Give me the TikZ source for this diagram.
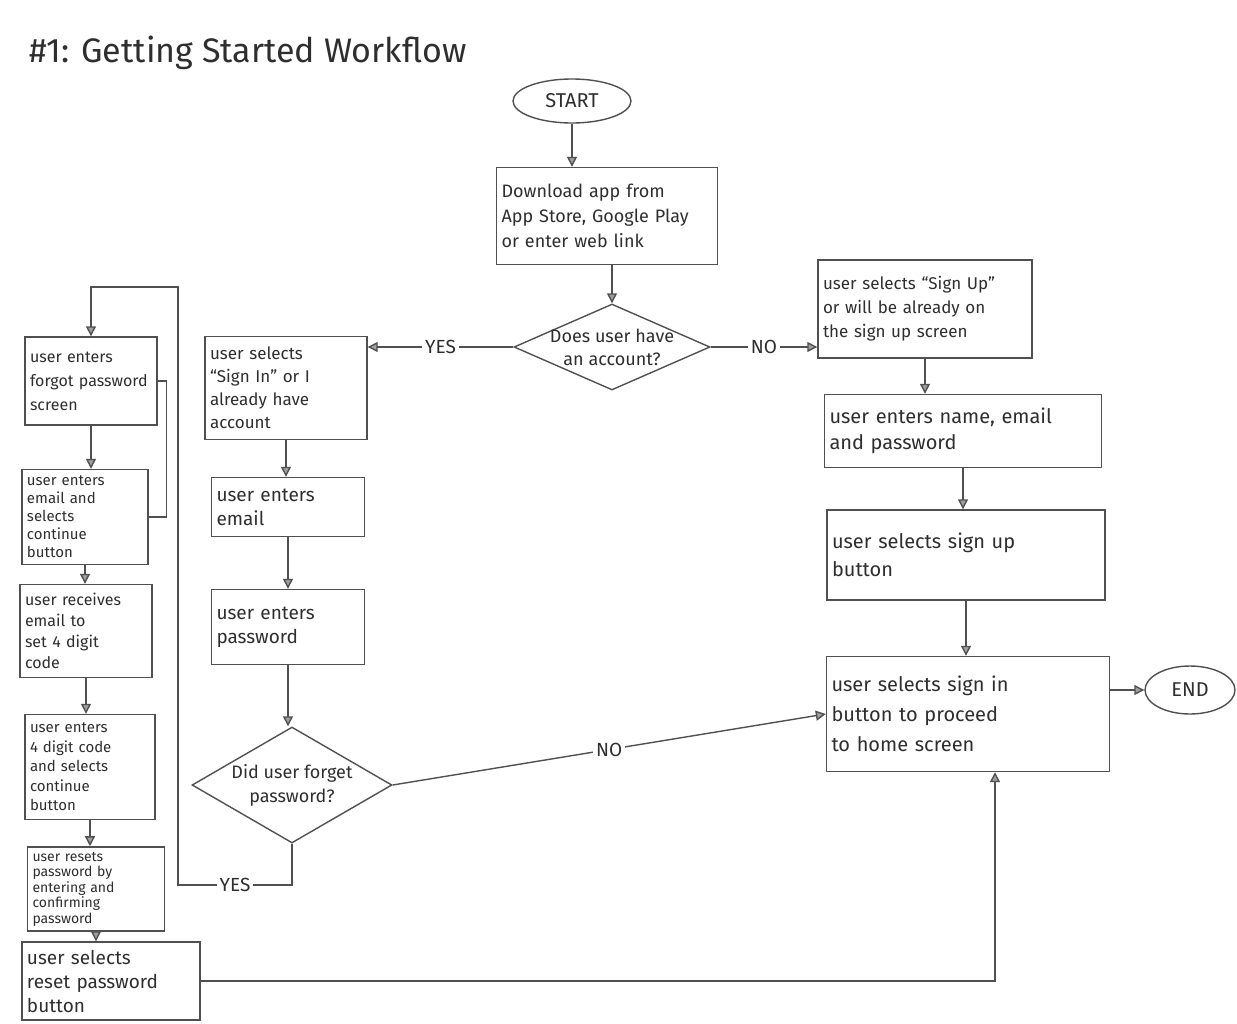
\documentclass[tikz,border=0pt]{standalone}
\usepackage{fontspec}
\setmainfont{Fira Sans}
\usetikzlibrary{arrows.meta,shapes.geometric}
\newcommand{\hand}[2]{\fontsize{#1}{#2}\selectfont}
\definecolor{pencil}{HTML}{2E2E2E}
\definecolor{lead}{HTML}{505050}

\begin{document}
\begin{tikzpicture}[x=1pt,y=-1pt,line width=1.4pt,color=lead,text=pencil,
	box/.style={draw,rectangle,inner sep=5pt,align=left},
	decision/.style={draw,diamond,inner sep=0pt},
	term/.style={draw,ellipse,inner sep=0pt,font=\hand{20}{24}},
	flow/.style={-{Triangle[length=10pt,width=10pt,fill=lead!55]}},
	tag/.style={fill=white,inner sep=3pt,font=\hand{19}{22}}]
	\useasboundingbox (0,0) rectangle (1237,1023);
	\node[anchor=base west,font=\hand{34}{40}] (title) at (25,62) {\#1: Getting Started Workflow};
	% main column
	\node[term,minimum width=118pt,minimum height=44pt] (start) at (572,101) {START};
	\node[box,text width=211pt,minimum height=97pt,font=\hand{18}{25}] (dl) at (607,216)
		{Download app from\\App Store, Google Play\\or enter web link};
	\node[decision,minimum width=196pt,minimum height=86pt,
		label={[font=\hand{18}{23},align=center]center:Does user have\\an account?}] (acct) at (612,347) {};
	% sign in column
	\node[box,text width=152pt,minimum height=103pt,font=\hand{17}{23}] (signin) at (286,388)
		{user selects\\“Sign In” or I\\already have\\account};
	\node[box,text width=143pt,minimum height=59pt,font=\hand{19}{24}] (email) at (288,507) {user enters\\email};
	\node[box,text width=143pt,minimum height=75pt,font=\hand{19}{24}] (pwd) at (288,627) {user enters\\password};
	\node[decision,minimum width=200pt,minimum height=116pt,
		label={[font=\hand{18}{24},align=center]center:Did user forget\\password?}] (fgt) at (292,785) {};
	% forgot password column
	\node[box,text width=122pt,minimum height=88pt,font=\hand{16}{24}] (fpw) at (91,381)
		{user enters\\forgot password\\screen};
	\node[box,text width=116pt,minimum height=95pt,font=\hand{15}{18}] (ecnt) at (85,517)
		{user enters\\email and\\selects\\continue\\button};
	\node[box,text width=122pt,minimum height=93pt,font=\hand{16}{21}] (rcv) at (86,631)
		{user receives\\email to\\set 4 digit\\code};
	\node[box,text width=120pt,minimum height=105pt,font=\hand{15}{19.5}] (code) at (90,767)
		{user enters\\4 digit code\\and selects\\continue\\button};
	\node[box,text width=127pt,minimum height=82pt,font=\hand{14}{15.5}] (rst) at (96,889)
		{user resets\\password by\\entering and\\confirming\\password};
	\node[box,text width=168pt,minimum height=78pt,font=\hand{19}{24}] (rbtn) at (111,981)
		{user selects\\reset password\\button};
	% sign up column
	\node[box,text width=204pt,minimum height=98pt,font=\hand{17}{24}] (signup) at (925,309)
		{user selects “Sign Up”\\or will be already on\\the sign up screen};
	\node[box,text width=267pt,minimum height=73pt,font=\hand{20}{26}] (name) at (963,431)
		{user enters name, email\\and password};
	\node[box,text width=268pt,minimum height=90pt,font=\hand{20}{28}] (subtn) at (966,555)
		{user selects sign up\\button};
	\node[box,text width=273pt,minimum height=115pt,font=\hand{20}{30}] (home) at (968,714)
		{user selects sign in\\button to proceed\\to home screen};
	\node[term,minimum width=90pt,minimum height=48pt] (end) at (1190,690) {END};
	\coordinate (loopR) at (178,885);
	\coordinate (loopT) at (178,287);
	% connectors
	\draw[flow] (start.south) -- (start.south |- dl.north);
	\draw[flow] (dl.south -| acct.north) -- (acct.north);
	\draw[flow] (acct.west) -- node[tag]{YES} (acct.west -| signin.east);
	\draw[flow] (acct.east) -- node[tag]{NO} (acct.east -| signup.west);
	\foreach \a/\b in {signin/email,email/pwd,pwd/fgt,fpw/ecnt,ecnt/rcv,rcv/code,code/rst,rst/rbtn,signup/name,name/subtn,subtn/home}
		\draw[flow] (\a.south) -- (\a.south |- \b.north);
	\draw[flow] (fgt.east) -- node[tag]{NO} (home.west);
	\draw[flow] (fgt.south) |- node[tag,pos=.75]{YES} (loopR) -- (loopT) -| (fpw.north);
	\draw (fpw.east) -- ++(9,0) |- (ecnt.east);
	\draw[flow] (rbtn.east) -| ([xshift=27pt]home.south);
	\draw[flow] (home.east |- end.west) -- (end.west);
\end{tikzpicture}
\end{document}
